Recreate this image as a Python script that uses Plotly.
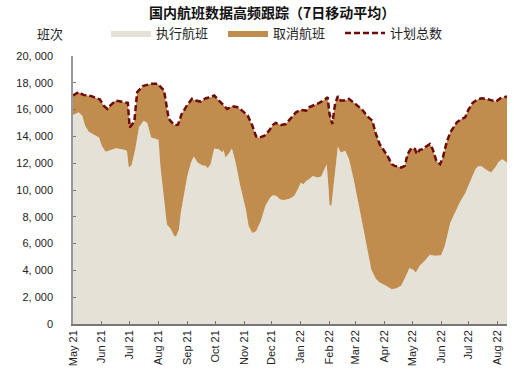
import plotly.graph_objects as go

# ---- data ----
planned_dates = [
    "2021-05-01", "2021-05-07", "2021-05-12", "2021-05-21", "2021-05-30", "2021-06-03", "2021-06-07",
    "2021-06-10", "2021-06-16", "2021-06-23", "2021-06-29", "2021-07-01", "2021-07-06", "2021-07-09",
    "2021-07-15", "2021-07-24", "2021-07-31", "2021-08-07", "2021-08-12", "2021-08-18", "2021-08-22",
    "2021-08-26", "2021-09-01", "2021-09-06", "2021-09-10", "2021-09-15", "2021-09-21", "2021-09-26",
    "2021-09-30", "2021-10-05", "2021-10-10", "2021-10-14", "2021-10-19", "2021-10-25", "2021-10-30",
    "2021-11-05", "2021-11-10", "2021-11-14", "2021-11-17", "2021-11-23", "2021-11-28", "2021-12-02",
    "2021-12-05", "2021-12-11", "2021-12-16", "2021-12-22", "2021-12-27", "2022-01-01", "2022-01-07",
    "2022-01-10", "2022-01-16", "2022-01-21", "2022-01-27", "2022-01-30", "2022-02-01", "2022-02-04",
    "2022-02-07", "2022-02-10", "2022-02-13", "2022-02-17", "2022-02-22", "2022-02-26", "2022-03-03",
    "2022-03-09", "2022-03-13", "2022-03-19", "2022-03-23", "2022-03-27", "2022-04-01", "2022-04-05",
    "2022-04-09", "2022-04-12", "2022-04-16", "2022-04-19", "2022-04-23", "2022-04-26", "2022-04-30",
    "2022-05-04", "2022-05-06", "2022-05-09", "2022-05-13", "2022-05-16", "2022-05-20", "2022-05-23",
    "2022-05-27", "2022-05-31", "2022-06-03", "2022-06-07", "2022-06-11", "2022-06-14", "2022-06-18",
    "2022-06-23", "2022-06-27", "2022-06-30", "2022-07-05", "2022-07-10", "2022-07-15", "2022-07-20",
    "2022-07-26", "2022-07-30", "2022-08-04", "2022-08-11",
]
planned_values = [
    17050, 17300, 17100, 17000, 16750, 16300, 16050,
    16300, 16675, 16550, 16500, 14675, 15100, 17300,
    17750, 17925, 17925, 17425, 15300, 14850, 14875,
    15675, 16350, 16800, 16675, 16600, 16850, 16925,
    17050, 16675, 16300, 16050, 16250, 16175, 15925,
    15550, 14800, 14000, 13900, 14050, 14425, 14850,
    15000, 14850, 14925, 15425, 15800, 15975, 15925,
    16175, 16350, 16500, 16750, 16925, 15675, 14925,
    16425, 17000, 16675, 16675, 16800, 16600, 16300,
    15925, 15550, 15175, 14175, 13425, 12925, 12475,
    11925, 11800, 11750, 11675, 11800, 12675, 13125,
    13050, 12675, 13000, 13050, 13250, 13425, 13050,
    12175, 11925, 12425, 13550, 14300, 14600, 15050,
    15300, 15425, 15925, 16500, 16750, 16850, 16800,
    16675, 16600, 16850, 16975,
]

executed_dates = [
    "2021-05-01", "2021-05-07", "2021-05-11", "2021-05-14", "2021-05-18", "2021-05-23", "2021-05-29",
    "2021-06-01", "2021-06-05", "2021-06-10", "2021-06-16", "2021-06-23", "2021-06-28", "2021-06-30",
    "2021-07-03", "2021-07-07", "2021-07-11", "2021-07-16", "2021-07-20", "2021-07-24", "2021-07-29",
    "2021-08-01", "2021-08-03", "2021-08-07", "2021-08-10", "2021-08-14", "2021-08-18", "2021-08-20",
    "2021-08-23", "2021-08-25", "2021-08-28", "2021-09-01", "2021-09-05", "2021-09-08", "2021-09-12",
    "2021-09-17", "2021-09-21", "2021-09-23", "2021-09-26", "2021-09-30", "2021-10-05", "2021-10-09",
    "2021-10-10", "2021-10-12", "2021-10-16", "2021-10-19", "2021-10-23", "2021-10-28", "2021-11-03",
    "2021-11-06", "2021-11-10", "2021-11-14", "2021-11-19", "2021-11-24", "2021-11-29", "2021-12-02",
    "2021-12-06", "2021-12-10", "2021-12-14", "2021-12-20", "2021-12-25", "2021-12-29", "2022-01-01",
    "2022-01-04", "2022-01-07", "2022-01-10", "2022-01-14", "2022-01-19", "2022-01-23", "2022-01-27",
    "2022-01-29", "2022-01-31", "2022-02-01", "2022-02-03", "2022-02-05", "2022-02-08", "2022-02-10",
    "2022-02-13", "2022-02-18", "2022-02-22", "2022-02-27", "2022-03-04", "2022-03-09", "2022-03-14",
    "2022-03-18", "2022-03-23", "2022-03-27", "2022-04-01", "2022-04-06", "2022-04-09", "2022-04-14",
    "2022-04-19", "2022-04-24", "2022-04-28", "2022-05-02", "2022-05-05", "2022-05-09", "2022-05-14",
    "2022-05-20", "2022-05-25", "2022-06-01", "2022-06-05", "2022-06-11", "2022-06-16", "2022-06-21",
    "2022-06-27", "2022-07-02", "2022-07-08", "2022-07-11", "2022-07-15", "2022-07-20", "2022-07-25",
    "2022-07-30", "2022-08-02", "2022-08-06", "2022-08-09", "2022-08-11",
]
executed_values = [
    15600, 15800, 15550, 14800, 14350, 14175, 13925,
    13300, 12850, 12975, 13125, 13050, 12925, 11675,
    11850, 13050, 14675, 15175, 15000, 13925, 13850,
    13750, 11800, 9300, 7425, 7100, 6550, 6550,
    7050, 8300, 9550, 11050, 12050, 12500, 12050,
    11850, 11800, 11625, 11925, 13100, 13050, 12800,
    13000, 12425, 12750, 13100, 12050, 10300, 8550,
    7300, 6800, 6925, 7675, 8800, 9425, 9600,
    9550, 9300, 9250, 9350, 9550, 10050, 10550,
    10425, 10675, 10800, 11050, 10925, 11000, 11550,
    11925, 10050, 8925, 8800, 10050, 12300, 13250,
    12800, 12925, 12300, 10800, 9050, 7300, 5550,
    4050, 3350, 3100, 2925, 2700, 2600, 2675,
    2850, 3550, 4175, 4050, 3850, 4350, 4675,
    5175, 5100, 5125, 5800, 7550, 8350, 9050,
    9750, 10550, 11550, 11800, 11750, 11500, 11300,
    11750, 12100, 12300, 12175, 12050,
]

y_tick_values = [0, 2000, 4000, 6000, 8000, 10000, 12000, 14000, 16000, 18000, 20000]
y_tick_labels = ["0", "2, 000", "4, 000", "6, 000", "8, 000", "10, 000", "12, 000",
                 "14, 000", "16, 000", "18, 000", "20, 000"]

series_names = ["执行航班", "取消航班", "计划总数"]
title_text = "国内航班数据高频跟踪（7日移动平均）"
y_unit = "班次"

# ---- styles ----
C_EXEC = "#E4E2D7"
C_CANCEL = "#C08D4F"
C_PLAN = "#6E0A0A"
CJK = "Noto Sans CJK SC, Noto Sans, sans-serif"
NARROW = "Liberation Sans Narrow, Liberation Sans, Arial, sans-serif"

fig = go.Figure()
fig.add_trace(go.Scatter(
    x=executed_dates, y=executed_values, name=series_names[0],
    mode="lines", line=dict(width=0, color=C_EXEC),
    fill="tozeroy", fillcolor=C_EXEC, hoverinfo="skip",
))
fig.add_trace(go.Scatter(
    x=planned_dates, y=planned_values, name=series_names[1],
    mode="lines", line=dict(width=0, color=C_CANCEL),
    fill="tonexty", fillcolor=C_CANCEL, hoverinfo="skip",
))
fig.add_trace(go.Scatter(
    x=planned_dates, y=planned_values, name=series_names[2],
    mode="lines", line=dict(width=2.5, color=C_PLAN, dash="6px,3px"),
    hoverinfo="skip",
))

fig.update_layout(
    width=514, height=381,
    margin=dict(l=73, r=7, t=56, b=57, autoexpand=False),
    paper_bgcolor="white", plot_bgcolor="white",
    showlegend=True,
    legend=dict(
        orientation="h", traceorder="normal",
        xref="container", yref="container",
        x=106 / 514, y=1 - 33 / 381, xanchor="left", yanchor="middle",
        font=dict(family=CJK, size=13, color="#222"),
        bgcolor="rgba(0,0,0,0)", entrywidth=62, entrywidthmode="pixels",
        itemwidth=40, tracegroupgap=0,
    ),
    annotations=[
        dict(text="<b>" + title_text + "</b>", xref="paper", yref="paper",
             x=(272 - 73) / 434, y=1.0 + (56 - 12) / 268, xanchor="center", yanchor="middle",
             showarrow=False, font=dict(family=CJK, size=14, color="#111")),
        dict(text=y_unit, xref="paper", yref="paper",
             x=(50 - 73) / 434, y=1.0 + (56 - 33) / 268, xanchor="center", yanchor="middle",
             showarrow=False, font=dict(family=CJK, size=13, color="#222")),
    ],
)

fig.update_xaxes(
    type="date", range=["2021-05-01", "2022-08-11"], automargin=False,
    dtick="M1", tick0="2021-05-01", tickformat="%b %y", tickangle=-90,
    ticks="inside", ticklen=3, tickcolor="#777", tickwidth=1,
    showline=True, linecolor="#777", linewidth=1.5,
    showgrid=False, zeroline=False,
    tickfont=dict(family=NARROW, size=11, color="#222"),
)
fig.update_yaxes(
    range=[0, 20000], tickvals=y_tick_values, ticktext=y_tick_labels, automargin=False,
    ticks="inside", ticklen=3, tickcolor="#777", tickwidth=1,
    showline=True, linecolor="#999", linewidth=1.5,
    showgrid=False, zeroline=False,
    ticklabelstandoff=16,
    tickfont=dict(family="Liberation Sans, Arial, sans-serif", size=11, color="#222"),
)

fig.write_html("out.html", config={"displayModeBar": False},
               post_script="document.body.style.margin='0';")
